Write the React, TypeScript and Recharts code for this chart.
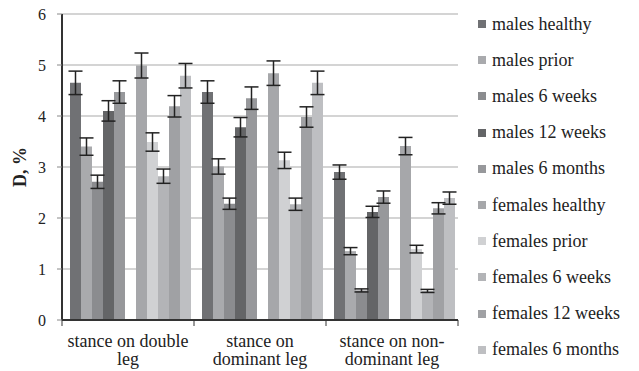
import React from "react";
import { BarChart, Bar, XAxis, YAxis, CartesianGrid, ErrorBar } from "recharts";

const categories = ["stance on double leg", "stance on dominant leg", "stance on non-dominant leg"];
const categoryLines = [["stance on double", "leg"], ["stance on", "dominant leg"], ["stance on non-", "dominant leg"]];

const seriesNames = [
  "males healthy", "males prior", "males 6 weeks", "males 12 weeks", "males 6 months",
  "females healthy", "females prior", "females 6 weeks", "females 12 weeks", "females 6 months",
];
const seriesColors = [
  "#707174", "#a9aaad", "#8b8c8f", "#646567", "#97989b",
  "#a6a7aa", "#d0d1d3", "#b3b4b7", "#a0a1a4", "#bebfc2",
];

const malesHealthy = [4.65, 4.47, 2.9];
const malesPrior = [3.4, 3.01, 1.35];
const males6Weeks = [2.71, 2.28, 0.58];
const males12Weeks = [4.1, 3.78, 2.12];
const males6Months = [4.47, 4.35, 2.41];
const femalesHealthy = [4.99, 4.84, 3.41];
const femalesPrior = [3.49, 3.13, 1.39];
const females6Weeks = [2.82, 2.27, 0.57];
const females12Weeks = [4.19, 3.98, 2.19];
const females6Months = [4.79, 4.65, 2.39];

const malesHealthyErr = [0.23, 0.22, 0.14];
const malesPriorErr = [0.17, 0.15, 0.07];
const males6WeeksErr = [0.13, 0.11, 0.03];
const males12WeeksErr = [0.2, 0.19, 0.11];
const males6MonthsErr = [0.22, 0.22, 0.12];
const femalesHealthyErr = [0.245, 0.24, 0.17];
const femalesPriorErr = [0.18, 0.16, 0.075];
const females6WeeksErr = [0.14, 0.12, 0.03];
const females12WeeksErr = [0.21, 0.2, 0.11];
const females6MonthsErr = [0.24, 0.23, 0.12];

const yTicks = [0, 1, 2, 3, 4, 5, 6];

const values = [malesHealthy, malesPrior, males6Weeks, males12Weeks, males6Months,
  femalesHealthy, femalesPrior, females6Weeks, females12Weeks, females6Months];
const errors = [malesHealthyErr, malesPriorErr, males6WeeksErr, males12WeeksErr, males6MonthsErr,
  femalesHealthyErr, femalesPriorErr, females6WeeksErr, females12WeeksErr, females6MonthsErr];

const data = categories.map((c, i) => {
  const row: any = { name: c, idx: i };
  seriesNames.forEach((s, k) => {
    row["s" + k] = values[k][i];
    row["e" + k] = errors[k][i];
  });
  return row;
});

const FONT = "Liberation Serif, Times New Roman, Times, serif";

const CatTick = (props: any) => {
  const { x, y, payload, index, visibleTicksCount } = props;
  const idx = categories.indexOf(payload.value);
  const lines = categoryLines[idx] || [payload.value];
  const half = payload.offset || 0;
  const isLast = index === (visibleTicksCount ?? categories.length) - 1;
  return (
    <g>
      <line x1={x - half} x2={x - half} y1={y} y2={y + 6} stroke="#333" strokeWidth={1} />
      {isLast && <line x1={x + half} x2={x + half} y1={y} y2={y + 6} stroke="#333" strokeWidth={1} />}
      <text x={x} y={y} textAnchor="middle" style={{ fontFamily: FONT }} fontSize={18} fill="#222">
        {lines.map((l, i) => (
          <tspan key={i} x={x} dy={i === 0 ? 26.5 : 18.5}>{l}</tspan>
        ))}
      </text>
    </g>
  );
};

const YTick = (props: any) => {
  const { x, y, payload } = props;
  return (
    <text x={x} y={y} dy={5.5} textAnchor="end" style={{ fontFamily: FONT }} fontSize={16} fill="#222">
      {payload.value}
    </text>
  );
};

const YLabel = (props: any) => {
  const vb = props.viewBox || {};
  const cx = 20;
  const cy = vb.y + vb.height / 2;
  return (
    <text x={cx} y={cy} transform={`rotate(-90 ${cx} ${cy})`} textAnchor="middle" dominantBaseline="central"
      style={{ fontFamily: FONT }} fontSize={18} fontWeight="bold" fill="#222">
      D, %
    </text>
  );
};

const renderBar = (k: number) => (
  <Bar key={"s" + k} dataKey={"s" + k} name={seriesNames[k]} fill={seriesColors[k]} isAnimationActive={false}>
    <ErrorBar dataKey={"e" + k} width={7} stroke="#222" strokeWidth={1.5} />
  </Bar>
);

export default function App() {
  return (
    <div style={{ position: "fixed", left: 0, top: 0, width: 639, height: 371, background: "#fff" }}>
      <BarChart
        width={639}
        height={371}
        data={data}
        margin={{ top: 14, right: 181, left: 0, bottom: 0 }}
        barGap={0}
        barCategoryGap={8}
      >
        <CartesianGrid vertical={false} stroke="#c6c6c6" strokeWidth={1.5} />
        <XAxis
          dataKey="name"
          height={51}
          axisLine={{ stroke: "#333", strokeWidth: 2 }}
          tickLine={false}
          tickSize={0}
          tickMargin={0}
          interval={0}
          tick={<CatTick />}
        />
        <YAxis
          domain={[0, 6]}
          ticks={yTicks}
          width={62}
          tickSize={5}
          tickMargin={11}
          axisLine={{ stroke: "#333", strokeWidth: 2 }}
          tickLine={{ stroke: "#888", strokeWidth: 1 }}
          tick={<YTick />}
          label={<YLabel />}
        />
        {[0, 1, 2, 3, 4].map(renderBar)}
        <Bar dataKey="gap" legendType="none" fill="none" isAnimationActive={false} />
        {[5, 6, 7, 8, 9].map(renderBar)}
      </BarChart>
      <div style={{ position: "absolute", left: 478, top: 6, fontFamily: FONT, fontSize: 18, color: "#222", whiteSpace: "nowrap" }}>
        {seriesNames.map((s, k) => (
          <div key={s} style={{ height: 36.2, display: "flex", alignItems: "center" }}>
            <span style={{ display: "inline-block", width: 8, height: 8, background: seriesColors[k], marginRight: 6 }} />
            <span>{s}</span>
          </div>
        ))}
      </div>
    </div>
  );
}
